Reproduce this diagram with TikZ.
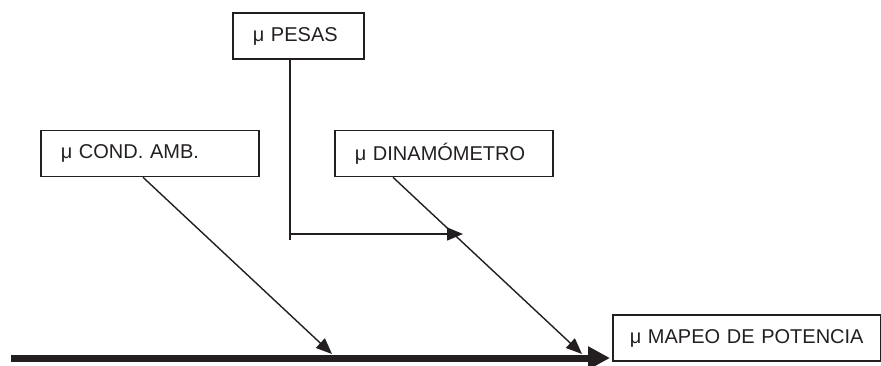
\documentclass[tikz,border=0pt]{standalone}
\usepackage{fontspec}
\setmainfont{Liberation Sans}
\usetikzlibrary{arrows.meta}
\definecolor{ink}{RGB}{35,31,32}

\begin{document}
\begin{tikzpicture}
[
  x=1pt, y=-1pt,
  every node/.style={font=\fontsize{20}{24}\selectfont, text=ink},
  box/.style={draw=ink, line width=1.6pt, minimum height=46pt, inner xsep=20pt, inner ysep=0pt, align=left, anchor=west},
  cause/.style={draw=ink, line width=1.4pt, -{Triangle[length=16pt,width=13pt]}},
  spine/.style={draw=ink, line width=7pt, -{Triangle[length=22pt,width=22pt]}}
]
\useasboundingbox (0,0) rectangle (881,365);

\node[box, text width=91pt] (pesas) at (232,36) {μ PESAS};
\node[box, text width=178pt] (cond) at (40,153.5) {μ COND. AMB.};
\node[box, text width=178pt] (dina) at (334,153.5) {μ DINAMÓMETRO};
\node[box, text width=234pt, inner xsep=17pt] (mapeo) at (612,338) {μ MAPEO DE POTENCIA};

\coordinate (tail) at (11,358);
\coordinate (head) at (610,358);
\coordinate (pfoot) at (290,240);
\coordinate (ptip) at (463,234);
\coordinate (ctip) at (332,354);
\coordinate (dtip) at (582,354);

\path[spine] (tail) -- (head);

\path[draw=ink, line width=1.4pt]
  ([xshift=58pt]pesas.south west) -- (pfoot);
\path[cause] (pfoot |- ptip) -- (ptip);

\path[cause] ([xshift=103pt]cond.south west) -- (ctip);
\path[cause] ([xshift=59pt]dina.south west) -- (dtip);
\end{tikzpicture}
\end{document}
